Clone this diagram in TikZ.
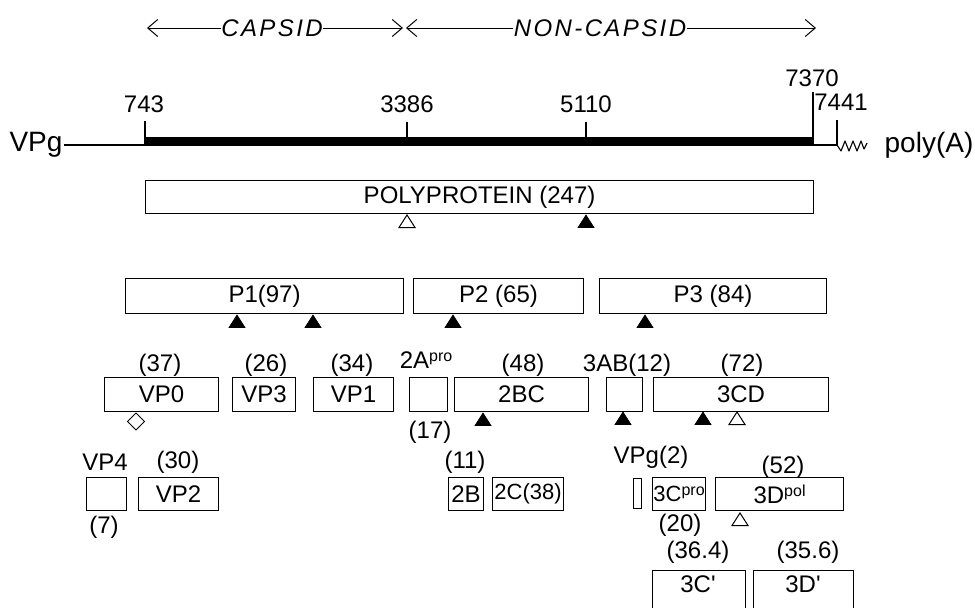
\documentclass[tikz,border=0pt]{standalone}
\usepackage{fontspec}
\setmainfont{Liberation Sans}
\usetikzlibrary{arrows.meta}
\newcommand\mysup[1]{\raisebox{0.55ex}{\fontsize{16}{16}\selectfont #1}}
\begin{document}
\begin{tikzpicture}[x=1pt,y=-1pt,line width=1.1pt,
  every node/.style={font=\fontsize{24}{26}\selectfont,inner sep=1pt},
  small/.style={font=\fontsize{22}{24}\selectfont},
  big/.style={font=\fontsize{28}{30}\selectfont},
  box/.style={draw,rectangle,anchor=north west,inner sep=0pt},
  ital/.style={font=\fontsize{24}{26}\selectfont\itshape\addfontfeatures{LetterSpace=10}},
  barb/.style={-{Straight Barb[length=10pt,width=17pt,line width=1pt]},line width=1pt},
  ftri/.pic={\filldraw[line width=0.6pt,line join=miter] (0,0) -- (8,12.5) -- (-8,12.5) -- cycle;},
  otri/.pic={\draw[line width=1pt] (0,0) -- (8,12.5) -- (-8,12.5) -- cycle;},
  dia/.pic={\draw[line width=1pt] (0,0) -- (8.5,8.5) -- (0,17) -- (-8.5,8.5) -- cycle;}]
\useasboundingbox (0,0) rectangle (975,608);
% top arrows
\node[ital,inner sep=0pt] (cap) at (272,28) {CAPSID};
\node[ital,inner sep=0pt] (noncap) at (600,28) {NON-CAPSID};
\coordinate (aL) at (147,28);
\coordinate (aM1) at (403,28);
\coordinate (aM2) at (406,28);
\coordinate (aR) at (816,28);
\draw[barb] (cap.west) -- (aL);
\draw[barb] (cap.east) -- (aM1);
\draw[barb] (noncap.west) -- (aM2);
\draw[barb] (noncap.east) -- (aR);
% genome line
\node[big] (vpg) at (36,145) {VPg};
\node[big] (polyA) at (929,145) {poly(A)};
\coordinate (g743) at (145,145);
\coordinate (g7370) at (813,145);
\coordinate (g7441) at (837,145);
\draw (vpg.east) -- (g743);
\fill (145,137) rectangle (813,146);
\draw (g7370) -- (g7441);
\draw (145,121) -- (145,145);
\draw (407,122) -- (407,145);
\draw (586,122) -- (586,145);
\draw (813,92) -- (813,145);
\draw (837,120) -- (837,145);
\draw[line width=1.1pt,line join=round] (g7441) -- (841,151) -- (845,141) -- (849,151) -- (853,141)
  -- (857,151) -- (861,141) -- (864,149) -- (867,143);
\node (n743) at (144,104) {743};
\node (n3386) at (407,104) {3386};
\node (n5110) at (586,104) {5110};
\node (n7370) at (812,78) {7370};
\node (n7441) at (841,102) {7441};
% polyprotein
\node[box,minimum width=668,minimum height=33] (poly) at (145,180) {POLYPROTEIN (247)};
\pic at (407,215) {otri};
\pic at (586,215) {ftri};
% P1 P2 P3
\node[box,minimum width=278,minimum height=35] (p1) at (125,278) {P1(97)};
\node[box,minimum width=170,minimum height=35] (p2) at (413,278) {P2 (65)};
\node[box,minimum width=227,minimum height=35] (p3) at (599,278) {P3 (84)};
\pic at (237,315) {ftri};
\pic at (313,315) {ftri};
\pic at (453,315) {ftri};
\pic at (645,315) {ftri};
% row 3
\node[box,minimum width=114,minimum height=34] (vp0) at (104,377) {VP0};
\node[box,minimum width=63,minimum height=34] (vp3) at (232,377) {VP3};
\node[box,minimum width=80,minimum height=34] (vp1) at (313,377) {VP1};
\node[box,minimum width=38,minimum height=34] (a2) at (409,377) {};
\node[box,minimum width=134,minimum height=34] (bc2) at (454,377) {2BC};
\node[box,minimum width=36,minimum height=34] (ab3) at (606,377) {};
\node[box,minimum width=175,minimum height=34] (cd3) at (653,377) {3CD};
\node (l37) at (160,365) {(37)};
\node (l26) at (266,365) {(26)};
\node (l34) at (352,365) {(34)};
\node (l2a) at (426,360) {2A\mysup{pro}};
\node (l48) at (523,365) {(48)};
\node (l17) at (430,432) {(17)};
\node (l3ab) at (627,365) {3AB(12)};
\node (l72) at (742,365) {(72)};
\pic at (136,413) {dia};
\pic at (483,413) {ftri};
\pic at (623,412) {ftri};
\pic at (703,412) {ftri};
\pic at (737,412) {otri};
% row 4
\node[box,minimum width=40,minimum height=33] (vp4) at (86,477) {};
\node[box,minimum width=80,minimum height=33] (vp2) at (138,477) {VP2};
\node[box,minimum width=35,minimum height=33] (b2) at (448,477) {2B};
\node[box,small,minimum width=71,minimum height=33] (c2) at (492,477) {2C(38)};
\node[box,minimum width=8,minimum height=30] (vpgb) at (633,478) {};
\node[box,small,minimum width=53,minimum height=33] (c3pro) at (652,477) {3C\mysup{pro}};
\node[box,minimum width=128,minimum height=33] (d3pol) at (715,477) {3D\mysup{pol}};
\node (lvp4) at (105,462) {VP4};
\node (l30) at (178,462) {(30)};
\node (l7) at (104,527) {(7)};
\node (l11) at (465,462) {(11)};
\node (lvpg) at (651,457) {VPg(2)};
\node (l52) at (783,467) {(52)};
\node (l20) at (680,525) {(20)};
\pic at (740,513) {otri};
% row 5
\node[box,minimum width=93,minimum height=50] (c3p) at (652,570) {};
\node[box,minimum width=100,minimum height=50] (d3p) at (753,570) {};
\node (t3c) at (698,584) {3C\textquotesingle};
\node (t3d) at (803,584) {3D\textquotesingle};
\node (l364) at (698,552) {(36.4)};
\node (l356) at (808,552) {(35.6)};
\end{tikzpicture}
\end{document}
